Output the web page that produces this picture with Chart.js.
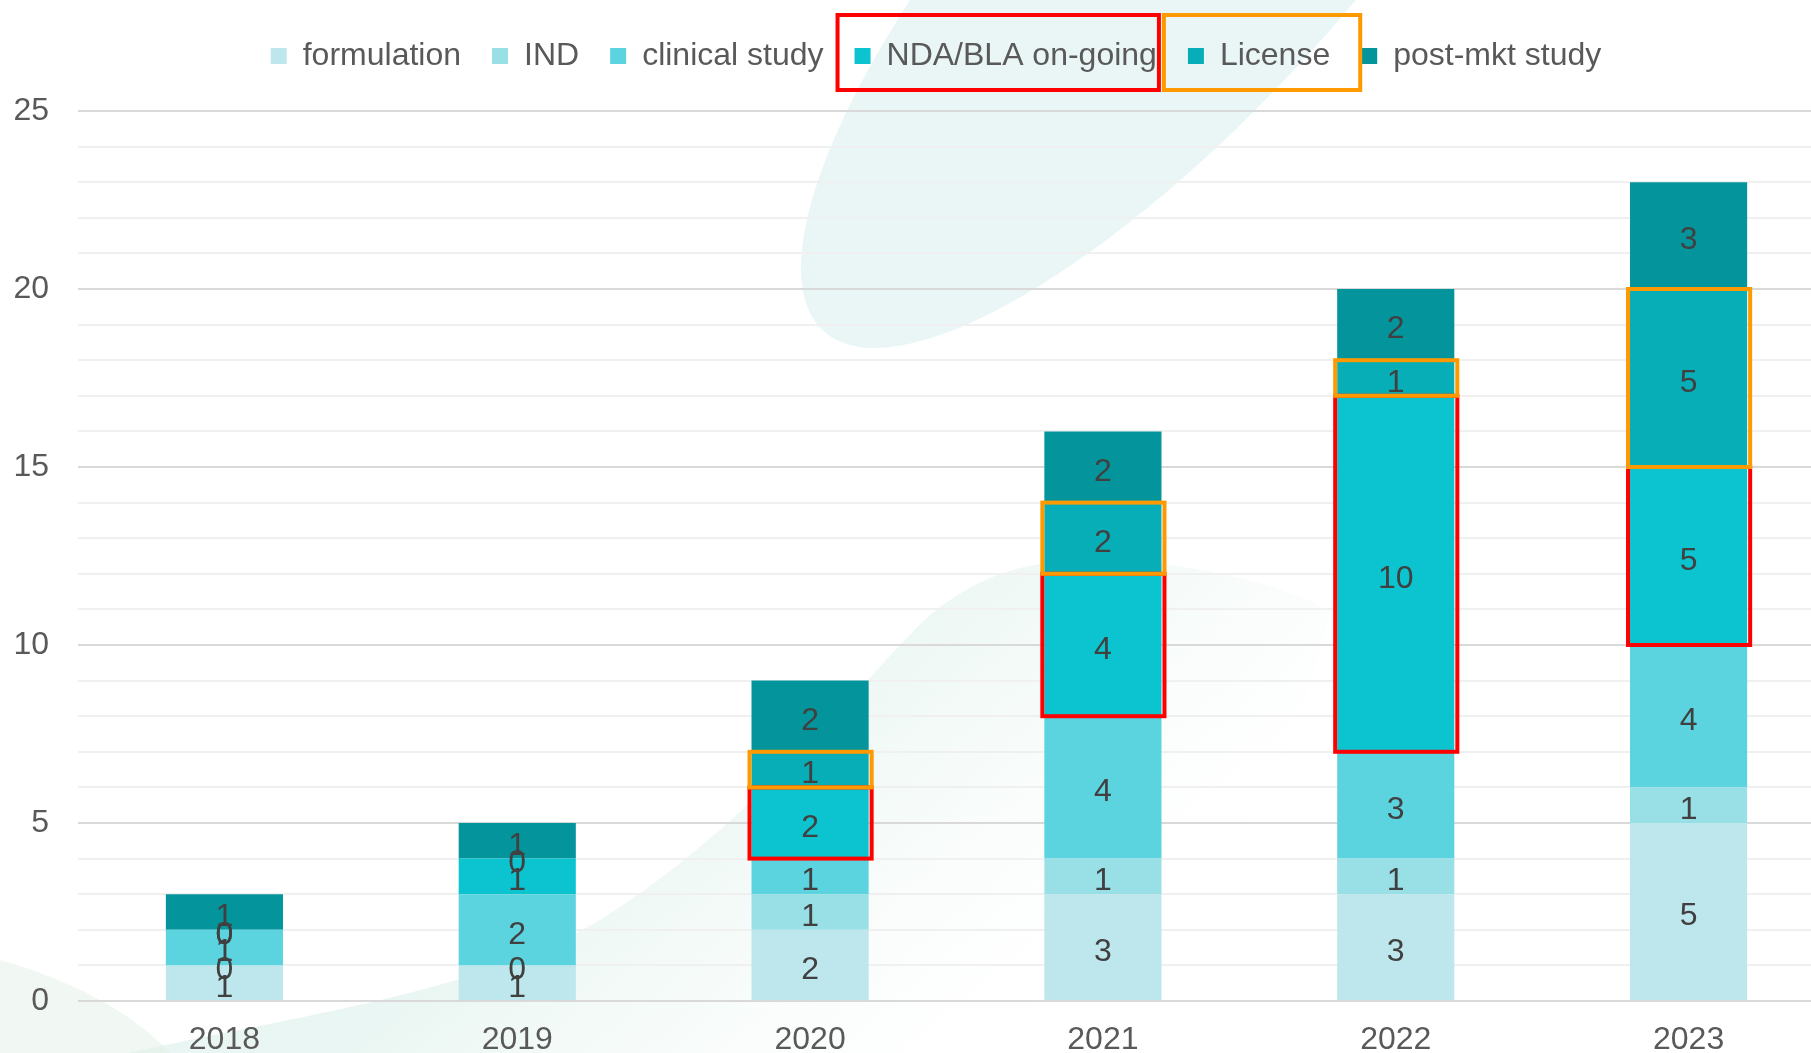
<!DOCTYPE html>
<html>
<head>
<meta charset="utf-8">
<script src="https://cdn.jsdelivr.net/npm/chart.js@4.4.1/dist/chart.umd.min.js"></script>
<style>
  html, body { margin: 0; padding: 0; background: #ffffff; overflow: hidden; width: 1811px; height: 1053px; }
  #wrap { position: absolute; left: 0; top: 0; width: 1872px; height: 1053px; }
</style>
</head>
<body>
<div id="wrap"><canvas id="c" width="1872" height="1053"></canvas></div>
<script>
// ---- data ----
const years = ['2018', '2019', '2020', '2021', '2022', '2023'];
const seriesNames = ['formulation', 'IND', 'clinical study', 'NDA/BLA on-going', 'License', 'post-mkt study'];
const formulation = [1, 1, 2, 3, 3, 5];
const ind = [0, 0, 1, 1, 1, 1];
const clinicalStudy = [1, 2, 1, 4, 3, 4];
const ndaBla = [0, 1, 2, 4, 10, 5];
const license = [0, 0, 1, 2, 1, 5];
const postMkt = [1, 1, 2, 2, 2, 3];
const highlightYears = ['2020', '2021', '2022', '2023'];

const colors = ['#BDE7EC', '#98DFE6', '#5BD4DF', '#0BC4D0', '#07AEB8', '#04959C'];
const FONT = '"Liberation Sans", Arial, sans-serif';

const seriesValues = [formulation, ind, clinicalStudy, ndaBla, license, postMkt];
const datasets = seriesNames.map((name, i) => ({
  label: name,
  data: seriesValues[i],
  backgroundColor: colors[i],
  borderWidth: 0,
  barPercentage: 0.4,
  categoryPercentage: 1.0
}));

// background decoration
const decorPlugin = {
  id: 'decor',
  beforeDraw(chart) {
    const ctx = chart.ctx;
    ctx.save();
    // leaf shape at top
    ctx.fillStyle = 'rgba(214,237,237,0.5)';
    ctx.beginPath();
    ctx.ellipse(1185, -70, 540, 175, -48 * Math.PI / 180, 0, Math.PI * 2);
    ctx.fill();
    // large swoosh rising from bottom-left, fading to the lower right
    const g = ctx.createLinearGradient(880, 580, 1150, 900);
    g.addColorStop(0, 'rgba(215,238,232,0.55)');
    g.addColorStop(0.5, 'rgba(225,242,236,0.28)');
    g.addColorStop(1, 'rgba(240,248,245,0.0)');
    ctx.fillStyle = g;
    ctx.beginPath();
    ctx.moveTo(127, 1053);
    ctx.bezierCurveTo(330, 1010, 480, 990, 600, 920);
    ctx.bezierCurveTo(760, 820, 860, 680, 930, 615);
    ctx.bezierCurveTo(980, 575, 1020, 565, 1060, 562);
    ctx.bezierCurveTo(1160, 556, 1260, 575, 1330, 610);
    ctx.bezierCurveTo(1300, 760, 1200, 920, 1100, 1053);
    ctx.closePath();
    ctx.fill();
    // faint greenish corner at bottom-left
    ctx.fillStyle = 'rgba(228,242,231,0.5)';
    ctx.beginPath();
    ctx.moveTo(0, 960);
    ctx.bezierCurveTo(70, 980, 130, 1010, 170, 1053);
    ctx.lineTo(0, 1053);
    ctx.closePath();
    ctx.fill();
    ctx.restore();
  }
};

// value labels
const labelPlugin = {
  id: 'valueLabels',
  afterDatasetsDraw(chart) {
    const ctx = chart.ctx;
    ctx.save();
    ctx.font = '32px ' + FONT;
    ctx.fillStyle = '#404040';
    ctx.textAlign = 'center';
    ctx.textBaseline = 'middle';
    chart.data.datasets.forEach((ds, di) => {
      const meta = chart.getDatasetMeta(di);
      meta.data.forEach((el, i) => {
        const y = (el.y + el.base) / 2;
        ctx.fillText(String(ds.data[i]), el.x, y + 5);
      });
    });
    ctx.restore();
  }
};

// highlight boxes (red = NDA/BLA, orange = License)
const highlightPlugin = {
  id: 'highlights',
  afterDraw(chart) {
    const ctx = chart.ctx;
    ctx.save();
    ctx.lineWidth = 4;
    const specs = [
      { ds: 3, color: '#FF0000', legendL: 17, legendR: 2 },
      { ds: 4, color: '#FF9900', legendL: 24, legendR: 30 }
    ];
    specs.forEach(s => {
      ctx.strokeStyle = s.color;
      const meta = chart.getDatasetMeta(s.ds);
      meta.data.forEach((el, i) => {
        if (highlightYears.indexOf(years[i]) < 0) return;
        const half = el.width / 2;
        const top = Math.min(el.y, el.base);
        const bot = Math.max(el.y, el.base);
        ctx.strokeRect(el.x - half - 2, top, el.width + 5, bot - top);
      });
      const hb = chart.legend.legendHitBoxes[s.ds];
      if (hb) {
        ctx.strokeRect(hb.left - s.legendL, 15, hb.width + s.legendL + s.legendR, 75);
      }
    });
    ctx.restore();
  }
};

const legendSizePlugin = {
  id: 'legendSize',
  afterInit(chart) {
    const lg = chart.legend;
    const orig = lg.fit;
    lg.fit = function () {
      orig.call(this);
      this.height = 102;
    };
  }
};

new Chart(document.getElementById('c'), {
  type: 'bar',
  data: { labels: years, datasets: datasets },
  plugins: [decorPlugin, labelPlugin, highlightPlugin, legendSizePlugin],
  options: {
    responsive: false,
    animation: false,
    devicePixelRatio: 1,
    layout: { padding: { top: 9, left: 0, right: 0, bottom: 0 } },
    plugins: {
      legend: {
        position: 'top',
        labels: {
          font: { family: FONT, size: 32 },
          color: '#595959',
          boxWidth: 16,
          boxHeight: 16,
          padding: 31
        }
      },
      tooltip: { enabled: false }
    },
    scales: {
      x: {
        stacked: true,
        grid: { display: false, drawTicks: false },
        border: { display: false },
        ticks: { color: '#595959', font: { family: FONT, size: 32, lineHeight: 1 }, padding: 23 },
        afterFit(s) { s.height = 52; }
      },
      y: {
        stacked: true,
        min: 0,
        max: 25,
        border: { display: false },
        grid: {
          drawTicks: false,
          color: (c) => (c.tick && c.tick.value % 5 === 0) ? '#D9D9D9' : '#F0F0F0',
          lineWidth: 2
        },
        ticks: {
          stepSize: 1,
          autoSkip: false,
          padding: 29,
          color: '#595959',
          font: { family: FONT, size: 32 },
          callback: (v) => (v % 5 === 0 ? v : '')
        },
        afterFit(s) { s.width = 78; }
      },
      y2: {
        position: 'right',
        display: true,
        min: 0,
        max: 25,
        grid: { display: false, drawTicks: false },
        border: { display: false },
        ticks: { display: false },
        afterFit(s) { s.width = 37; }
      }
    }
  }
});
</script>
</body>
</html>
